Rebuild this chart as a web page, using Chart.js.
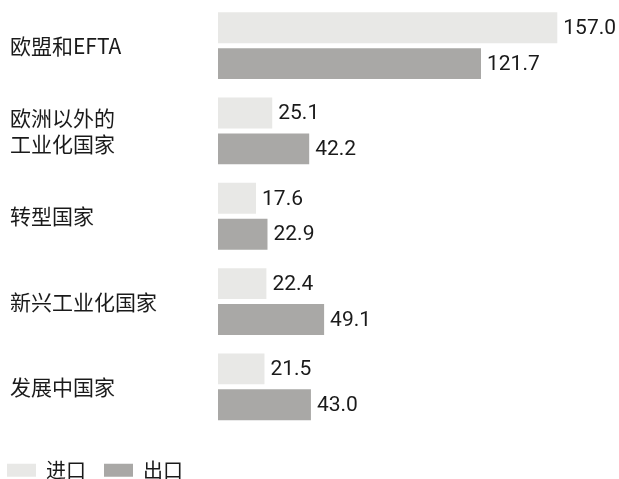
<!DOCTYPE html>
<html>
<head>
<meta charset="utf-8">
<script src="https://cdn.jsdelivr.net/npm/chart.js@4"></script>
<style>
  html, body { margin: 0; padding: 0; background: #fff; }
  #wrap { width: 619px; height: 479px; }
</style>
</head>
<body>
<div id="wrap"><canvas id="myChart"></canvas></div>
<script>
const categories = [
    '欧盟和EFTA',
    ['欧洲以外的', '工业化国家'],
    '转型国家',
    '新兴工业化国家',
    '发展中国家'
];
const seriesNames = ['进口', '出口'];
const imports = [157.0, 25.1, 17.6, 22.4, 21.5];
const exports = [121.7, 42.2, 22.9, 49.1, 43.0];

const textColor = '#1a1a1a';

// y-axis labels sit at the left edge, move the axis box after layout
const shiftLabels = {
    id: 'shiftLabels',
    afterLayout(chart) {
        chart.scales.y.left = 10;
    }
};

// value labels at the end of each bar
const valueLabels = {
    id: 'valueLabels',
    afterDatasetsDraw(chart) {
        const ctx = chart.ctx;
        ctx.save();
        ctx.font = '21px Roboto';
        ctx.fillStyle = textColor;
        ctx.textAlign = 'left';
        ctx.textBaseline = 'middle';
        chart.data.datasets.forEach(function (ds, i) {
            chart.getDatasetMeta(i).data.forEach(function (bar, j) {
                ctx.fillText(ds.data[j].toFixed(1), bar.x + 6, bar.y + 1);
            });
        });
        ctx.restore();
    }
};

const data = {
    labels: categories,
    datasets: [{
        label: seriesNames[0],
        data: imports,
        backgroundColor: '#e8e8e6',
        borderWidth: 0
    }, {
        label: seriesNames[1],
        data: exports,
        backgroundColor: '#a9a8a6',
        borderWidth: 0
    }]
};

const config = {
    type: 'bar',
    data: data,
    options: {
        indexAxis: 'y',
        responsive: true,
        maintainAspectRatio: false,
        animation: false,
        categoryPercentage: 0.842,
        barPercentage: 0.861,
        layout: {
            padding: { left: -11, right: 12, top: 3, bottom: -11.25 }
        },
        scales: {
            x: {
                min: 0,
                max: 180,
                grid: { display: false },
                border: { display: false },
                ticks: { display: false },
                afterFit: function (scale) { scale.height = 12.75; }
            },
            y: {
                grid: { display: false },
                border: { display: false },
                ticks: {
                    crossAlign: 'far',
                    color: textColor,
                    font: { family: "'Noto Sans CJK SC'", size: 21 }
                },
                afterFit: function (scale) {
                    scale.width = 229;
                    scale.paddingTop = 0;
                    scale.paddingBottom = 0;
                }
            }
        },
        plugins: {
            legend: {
                display: true,
                position: 'bottom',
                align: 'start',
                labels: {
                    boxWidth: 29,
                    boxHeight: 13,
                    padding: 18,
                    color: textColor,
                    font: { family: "'Noto Sans CJK SC'", size: 20 }
                }
            },
            tooltip: { enabled: false }
        }
    },
    plugins: [shiftLabels, valueLabels]
};

var myChart = new Chart(document.getElementById('myChart'), config);
</script>
</body>
</html>
